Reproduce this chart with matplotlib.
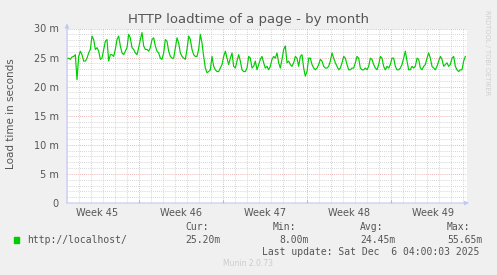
import numpy as np
import matplotlib.pyplot as plt

# load time in ms, one sample every ~3.3 h
loadtime = [
    24.8, 24.9, 24.7, 25.1, 25.2, 25.5, 21.2, 25.2, 26.1, 25.5,
    24.4, 24.4, 24.9, 25.8, 26.4, 28.7, 28.1, 26.4, 26.7, 26.1,
    24.7, 24.9, 26.4, 27.8, 28.1, 24.4, 25.5, 25.5, 25.2, 26.4,
    28.1, 28.7, 27.0, 25.8, 25.5, 26.1, 26.7, 29.0, 28.4, 26.7,
    26.4, 25.8, 25.5, 26.7, 28.1, 29.3, 27.0, 26.4, 26.4, 26.1,
    26.7, 28.1, 28.4, 27.0, 26.1, 25.8, 24.9, 24.7, 25.8, 28.1,
    27.8, 26.1, 25.2, 24.9, 24.9, 26.7, 28.4, 27.5, 25.8, 25.2,
    24.9, 24.7, 26.4, 28.7, 28.1, 26.4, 25.5, 25.2, 25.2, 26.4,
    29.0, 27.5, 25.2, 23.2, 22.4, 22.6, 22.9, 25.2, 23.5, 22.9,
    22.6, 22.6, 23.2, 23.8, 25.2, 26.1, 24.9, 23.8, 24.9, 25.8,
    23.5, 23.2, 24.4, 25.5, 24.4, 22.9, 22.6, 22.6, 23.2, 25.2,
    24.9, 23.2, 23.5, 24.4, 22.9, 23.8, 24.7, 25.2, 24.1, 23.2,
    23.5, 22.9, 23.5, 24.7, 25.2, 24.9, 25.8, 24.1, 23.2, 24.7,
    26.4, 27.0, 24.1, 24.4, 23.8, 23.5, 24.1, 25.2, 24.9, 23.5,
    25.2, 25.5, 23.2, 21.8, 22.6, 24.9, 24.9, 23.8, 23.2, 22.9,
    23.2, 23.8, 24.7, 24.4, 23.5, 23.2, 23.2, 23.5, 24.4, 25.8,
    24.9, 24.1, 23.5, 22.9, 23.2, 24.1, 25.2, 24.9, 23.8, 22.9,
    22.9, 23.2, 23.2, 24.1, 25.2, 24.9, 23.2, 22.9, 22.9, 23.2,
    22.9, 23.5, 24.9, 24.7, 23.8, 23.2, 22.9, 23.8, 25.2, 24.9,
    23.5, 22.9, 23.5, 23.2, 23.8, 24.9, 24.9, 23.5, 22.9, 22.9,
    23.2, 23.8, 24.9, 26.1, 24.4, 22.9, 22.9, 23.5, 23.2, 23.5,
    24.9, 24.7, 23.2, 22.9, 23.5, 23.8, 24.9, 25.8, 24.9, 23.5,
    23.2, 22.9, 23.5, 24.4, 25.2, 24.7, 23.5, 23.8, 24.1, 23.5,
    23.8, 24.9, 25.2, 23.5, 22.9, 22.6, 22.9, 22.9, 24.4, 25.2,
]
sample_days = 1 / 7.2          # sampling interval in days
span_days = 400 / 12           # time range shown on the graph

week_starts = [6, 13, 20, 27]
week_labels = ['Week 45', 'Week 46', 'Week 47', 'Week 48', 'Week 49']
week_centers = [2.5, 9.5, 16.5, 23.5, 30.5]

yticks = [0, 5, 10, 15, 20, 25, 30]
ytick_labels = ['0', '5 m', '10 m', '15 m', '20 m', '25 m', '30 m']

t = np.arange(len(loadtime)) * sample_days

txt = '#555555'
minor_c = '#c8c8c8'
major_c = '#e3a0a0'
fig = plt.figure(figsize=(4.97, 2.75), dpi=100, facecolor='#f0f0f0')
ax = fig.add_axes([67 / 497, 1 - 203 / 275, 400 / 497, 174.5 / 275])
ax.set_facecolor('white')
for s in ax.spines.values():
    s.set_visible(False)

ax.set_xlim(0, span_days)
ax.set_ylim(0, 30)

# grid: gray dotted minor, reddish dotted major
for d in range(0, 34):
    if d not in week_starts:
        ax.axvline(d, color=minor_c, lw=0.6, ls=(0, (1, 1.5)), zorder=1)
for d in week_starts:
    ax.axvline(d, color=major_c, lw=0.6, ls=(0, (1, 1.5)), zorder=1)
for v in range(1, 31):
    if v % 5:
        ax.axhline(v, color=minor_c, lw=0.6, ls=(0, (1, 1.5)), zorder=1)
for v in yticks[1:]:
    ax.axhline(v, color=major_c, lw=0.6, ls=(0, (1, 1.5)), zorder=1)

ax.plot(t, loadtime, color='#00cc00', lw=0.85, zorder=3)

ax.set_yticks(yticks)
ax.set_yticklabels(ytick_labels)
ax.set_xticks(week_starts)
ax.set_xticklabels([])
ax.tick_params(axis='y', length=0, pad=6, labelsize=7, labelcolor=txt)
ax.tick_params(axis='x', length=2, color=major_c, direction='in')
for x, lab in zip(week_centers, week_labels):
    ax.text(x, -0.055, lab, transform=ax.get_xaxis_transform(),
            ha='center', va='center', fontsize=7, color=txt)

# axis arrows
arrow = dict(arrowstyle='-|>', color='#c4c8f4', lw=0.8, mutation_scale=6)
ax.annotate('', xy=(1.012, 0), xytext=(-0.008, 0), xycoords='axes fraction',
            arrowprops=arrow, annotation_clip=False)
ax.annotate('', xy=(0, 1.045), xytext=(0, -0.015), xycoords='axes fraction',
            arrowprops=arrow, annotation_clip=False)

fig.text(0.5, 1 - 19 / 275, 'HTTP loadtime of a page - by month',
         ha='center', va='center', fontsize=9.5, color=txt)
fig.text(11 / 497, 1 - 114 / 275, 'Load time in seconds', rotation=90,
         ha='center', va='center', fontsize=7.5, color=txt)
fig.text(487 / 497, 1 - 53 / 275, 'RRDTOOL / TOBI OETIKER', rotation=-90,
         ha='center', va='center', fontsize=4.8, color='#cfcfcf')

# legend block
mono = dict(family='DejaVu Sans Mono', fontsize=7, color=txt, va='center')
fig.patches.append(plt.Rectangle((14 / 497, 1 - 243 / 275), 5 / 497, 6 / 275,
                                 transform=fig.transFigure, color='#00cc00'))
fig.text(27 / 497, 1 - 240 / 275, 'http://localhost/', **mono)
fig.text(185 / 497, 1 - 227 / 275, 'Cur:', **mono)
fig.text(185 / 497, 1 - 240 / 275, '25.20m', **mono)
fig.text(273 / 497, 1 - 227 / 275, 'Min:', **mono)
fig.text(279 / 497, 1 - 240 / 275, '8.00m', **mono)
fig.text(360 / 497, 1 - 227 / 275, 'Avg:', **mono)
fig.text(360 / 497, 1 - 240 / 275, '24.45m', **mono)
fig.text(447 / 497, 1 - 227 / 275, 'Max:', **mono)
fig.text(447 / 497, 1 - 240 / 275, '55.65m', **mono)
fig.text(262 / 497, 1 - 252 / 275, 'Last update: Sat Dec  6 04:00:03 2025', **mono)
fig.text(248 / 497, 1 - 264 / 275, 'Munin 2.0.73', ha='center', va='center',
         fontsize=5.5, color='#cccccc')

fig.savefig('out.png', dpi=100, facecolor=fig.get_facecolor())
